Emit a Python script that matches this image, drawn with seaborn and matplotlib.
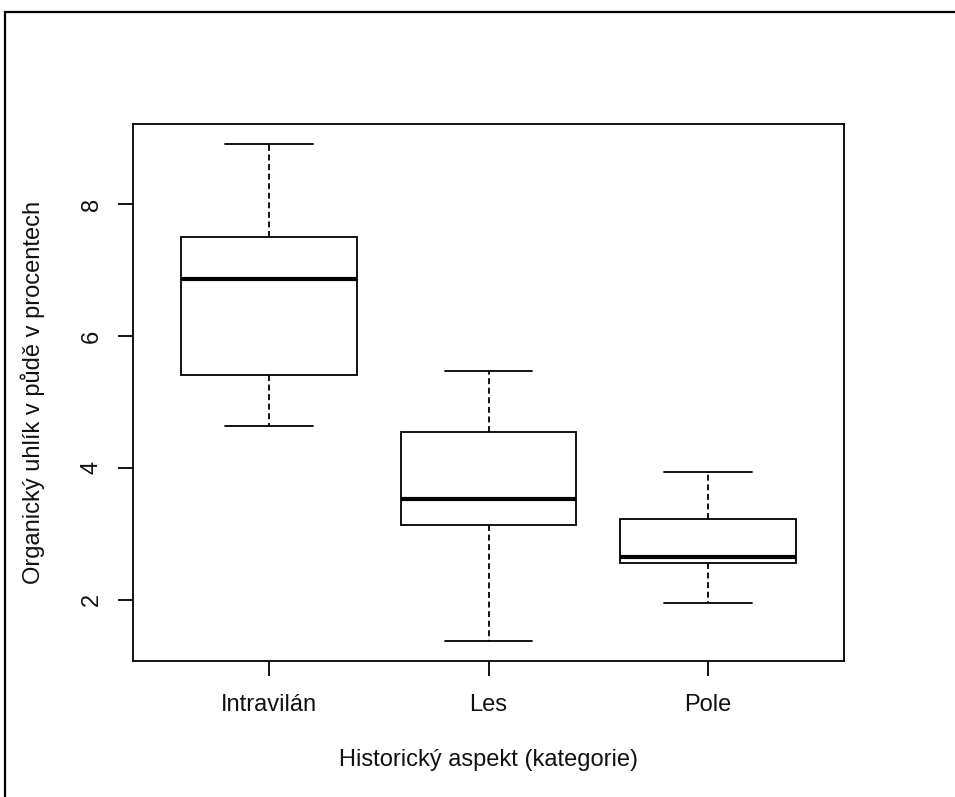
import numpy as np
import pandas as pd
import matplotlib
matplotlib.use("Agg")
import matplotlib.pyplot as plt
from matplotlib.lines import Line2D
import seaborn as sns

# Five-number summaries (min, Q1, median, Q3, max)
categories = ["Intravilán", "Les", "Pole"]
intravilan = [4.63, 5.41, 6.86, 7.50, 8.91]
les = [1.38, 3.14, 3.53, 4.54, 5.47]
pole = [1.945, 2.55, 2.64, 3.22, 3.93]
y_ticks = [2, 4, 6, 8]

x_title = "Historický aspekt (kategorie)"
y_title = "Organický uhlík v půdě v procentech"

df = pd.DataFrame({
    "kategorie": [categories[0]] * len(intravilan) + [categories[1]] * len(les) + [categories[2]] * len(pole),
    "hodnota": intravilan + les + pole,
})

sns.set_style("ticks")
plt.rcParams["font.family"] = ["Liberation Sans", "DejaVu Sans"]

W, H = 955, 797
fig = plt.figure(figsize=(W / 100, H / 100), dpi=100)
fig.patch.set_facecolor("white")

left, right, top, bottom = 133, 844, 124, 660.7
ax = fig.add_axes([left / W, 1 - bottom / H, (right - left) / W, (bottom - top) / H])

sns.boxplot(
    data=df, x="kategorie", y="hodnota", order=categories, ax=ax,
    color="white", linecolor="black", linewidth=1.3, width=0.8, whis=1.5,
    showfliers=False,
    medianprops={"linewidth": 3.0, "color": "black"},
    whiskerprops={"linestyle": (0, (3.3, 2.0)), "color": "black"},
    capprops={"color": "black"},
    boxprops={"edgecolor": "black", "facecolor": "white"},
)

ax.set_xlim(-0.62, 2.62)
ax.set_ylim(1.075, 9.213)
ax.set_yticks(y_ticks)
ax.set_yticklabels([str(t) for t in y_ticks])

fs = 17
for s in ax.spines.values():
    s.set_visible(True)
    s.set_color("black")
    s.set_linewidth(1.3)

ax.tick_params(axis="both", length=10.8, width=1.3, color="black", labelsize=fs, labelcolor="#111111")
ax.tick_params(axis="x", pad=13.5)
ax.tick_params(axis="y", pad=11, labelrotation=90)
for lab in ax.get_yticklabels():
    lab.set_va("center")

ax.set_xlabel(x_title, fontsize=fs, color="#111111", va="center")
ax.set_ylabel(y_title, fontsize=fs, color="#111111", va="center")
ax.xaxis.set_label_coords(0.5, (bottom - 760) / (bottom - top))
ax.yaxis.set_label_coords((33 - left) / (right - left), 0.5)

# Outer figure border (only top and left visible in the reference crop)
bx, by = 4.5 / W, 1 - 11.5 / H
fig.add_artist(Line2D([bx, bx, 1.01], [-0.01, by, by], transform=fig.transFigure,
                      color="black", linewidth=1.6, solid_joinstyle="miter"))

fig.savefig("out.png", dpi=100, facecolor="white")
